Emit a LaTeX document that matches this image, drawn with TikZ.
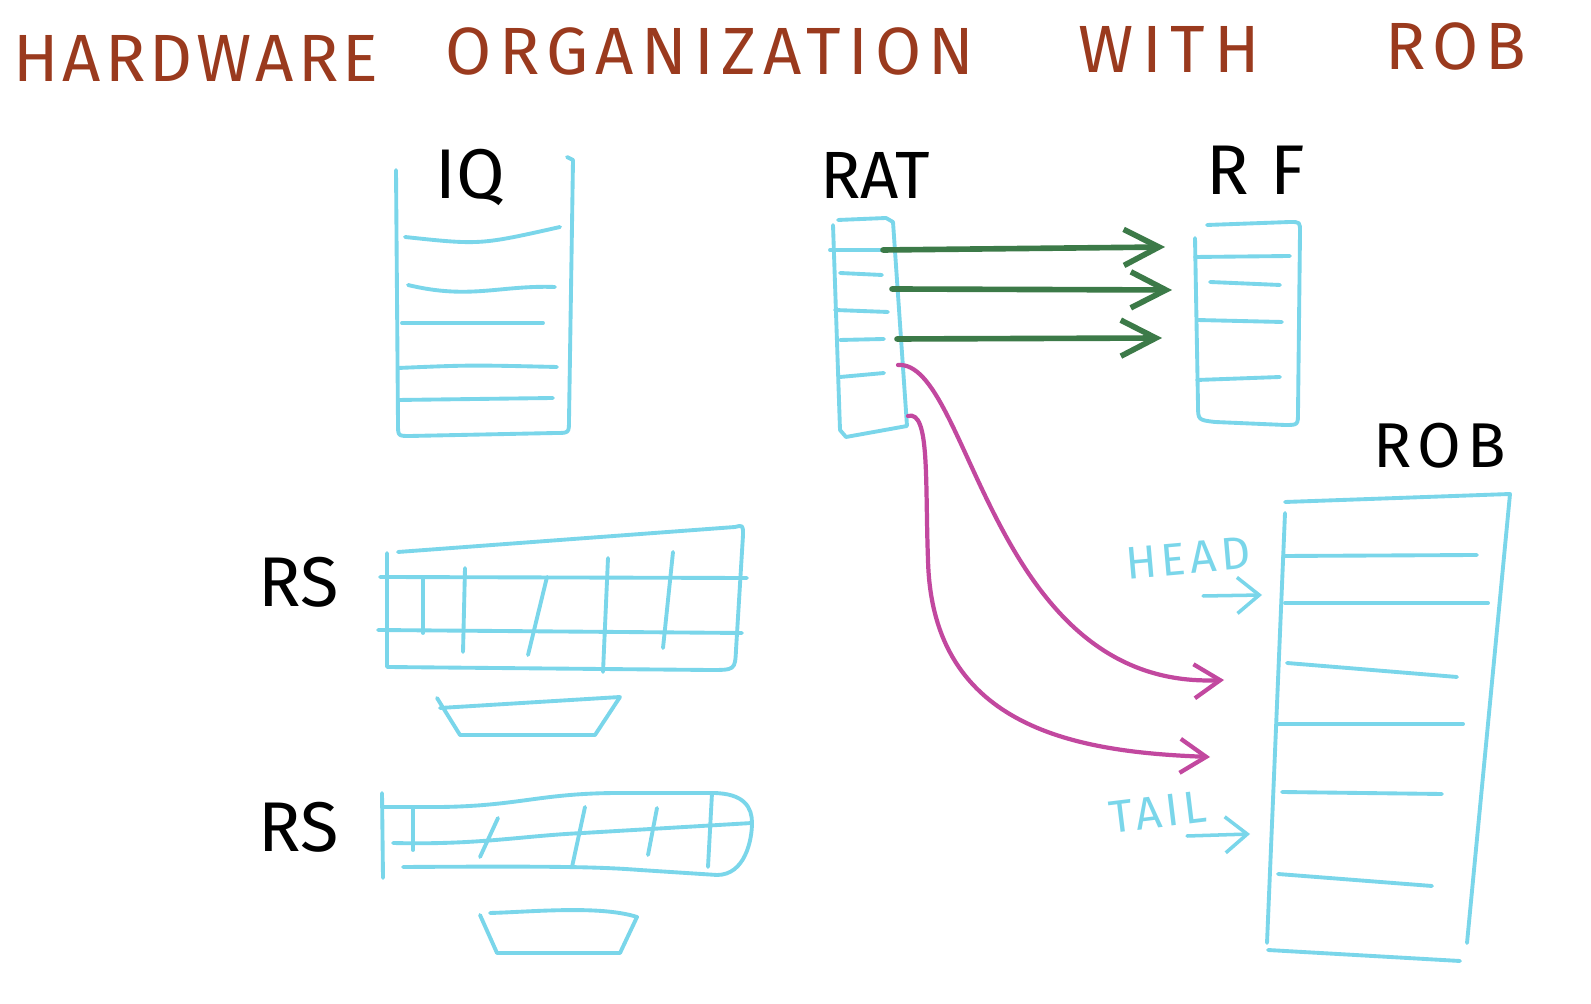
\documentclass[tikz,border=0pt]{standalone}
\usepackage{fontspec}
\setmainfont{Fira Sans}
\usetikzlibrary{arrows.meta}
\definecolor{boxcyan}{HTML}{7AD6EA}
\definecolor{ratgreen}{HTML}{3C7A48}
\definecolor{robpink}{HTML}{C2489F}
\definecolor{titlered}{HTML}{9A3A1E}
\begin{document}
\begin{tikzpicture}[
  x=0.01cm, y=-0.01cm,
  sketch/.style={draw=boxcyan, line width=1.1pt, line cap=round, line join=round},
  unitlbl/.style={font=\fontsize{20}{24}\selectfont, text=black, inner sep=0pt},
  titleword/.style={text=titlered, inner sep=0pt},
  ptrlbl/.style={font=\fontsize{13}{16}\selectfont\addfontfeatures{LetterSpace=10}, text=boxcyan, inner sep=0pt},
  maparrow/.style={draw=ratgreen, line width=1.6pt, line cap=round, -{Straight Barb[length=3.5mm,width=3.6mm]}},
  robarrow/.style={draw=robpink, line width=1.2pt, line cap=round, -{Straight Barb[length=2.6mm,width=3.4mm]}},
  ptrarrow/.style={draw=boxcyan, line width=1pt, line cap=round, -{Straight Barb[length=2.2mm,width=3.6mm]}}
]
\fill[white] (0,0) rectangle (1591,1004);
\useasboundingbox (0,0) rectangle (1591,1004);

\node[titleword, font=\fontsize{19}{23}\selectfont\addfontfeatures{LetterSpace=6}] (ttlhw) at (196,58) {HARDWARE};
\node[titleword, font=\fontsize{19}{23}\selectfont\addfontfeatures{LetterSpace=11}] (ttlorg) at (710,51) {ORGANIZATION};
\node[titleword, font=\fontsize{19}{23}\selectfont\addfontfeatures{LetterSpace=13}] (ttlwith) at (1169,49) {WITH};
\node[titleword, font=\fontsize{19}{23}\selectfont\addfontfeatures{LetterSpace=10}] (ttlrob) at (1456,46) {ROB};

\node[unitlbl] (iq) at (470,177) {IQ};
\node[unitlbl, font=\fontsize{19}{23}\selectfont] (rat) at (875,175) {RAT};
\node[unitlbl, font=\fontsize{20}{24}\selectfont\addfontfeatures{LetterSpace=30}] (rf) at (1256,170) {RF};
\node[unitlbl, font=\fontsize{18}{22}\selectfont\addfontfeatures{LetterSpace=10}] (rob) at (1440,446) {ROB};
\node[unitlbl] (rs0) at (299,582) {RS};
\node[unitlbl] (rs1) at (299,827) {RS};
\node[ptrlbl, rotate=5] (head) at (1188,558) {HEAD};
\node[ptrlbl, rotate=7] (tail) at (1158,812) {TAIL};

% IQ
\draw[sketch] (396,170) -- (398,424) .. controls (398,436) .. (410,436) -- (556,433)
  .. controls (569,433) .. (569,420) -- (573,160) -- (567,157);
\draw[sketch] (405,237) .. controls (480,245) .. (560,227);
\draw[sketch] (408,285) .. controls (470,300) and (500,285) .. (555,287);
\draw[sketch] (402,323) -- (543,323);
\draw[sketch] (398,368) .. controls (470,365) .. (557,367);
\draw[sketch] (398,400) -- (553,398);

% RAT
\draw[sketch] (833,225) -- (840,430) -- (846,437) -- (907,426) -- (893,222) -- (886,218) -- (838,220);
\draw[sketch] (830,250) -- (893,250);
\draw[sketch] (840,273) -- (882,275);
\draw[sketch] (835,310) -- (888,312);
\draw[sketch] (840,340) -- (884,339);
\draw[sketch] (840,377) -- (884,373);

% RF
\draw[sketch] (1207,225) -- (1290,222) .. controls (1300,222) .. (1300,232) -- (1298,412)
  .. controls (1298,425) .. (1285,425) -- (1215,422) .. controls (1198,420) .. (1198,405) -- (1195,238);
\draw[sketch] (1195,257) -- (1290,256);
\draw[sketch] (1210,282) -- (1280,285);
\draw[sketch] (1197,320) -- (1282,322);
\draw[sketch] (1197,380) -- (1280,377);

% ROB
\draw[sketch] (1285,513) -- (1267,943);
\draw[sketch] (1285,502) -- (1510,494) -- (1467,943);
\draw[sketch] (1268,950) -- (1460,961);
\draw[sketch] (1283,556) -- (1477,555);
\draw[sketch] (1285,603) -- (1488,603);
\draw[sketch] (1287,663) -- (1457,677);
\draw[sketch] (1277,724) -- (1463,724);
\draw[sketch] (1282,792) -- (1442,794);
\draw[sketch] (1278,874) -- (1432,886);

% RS 0 and its unit
\draw[sketch] (387,553) -- (387,667) -- (710,670) .. controls (735,670) .. (736,650) -- (743,535)
  .. controls (743,525) .. (735,527) -- (398,552);
\draw[sketch] (380,577) -- (747,578);
\draw[sketch] (378,630) -- (742,633);
\draw[sketch] (423,578) -- (423,633);
\draw[sketch] (465,568) -- (463,652);
\draw[sketch] (547,577) -- (528,655);
\draw[sketch] (608,558) -- (603,672);
\draw[sketch] (673,552) -- (663,648);
\draw[sketch] (437,698) -- (460,735) -- (595,735) -- (620,697) -- (440,708);

% RS 1 and its unit
\draw[sketch] (382,793) -- (383,878);
\draw[sketch] (382,807) -- (440,807) .. controls (520,806) and (540,793) .. (620,793) -- (712,793)
  .. controls (745,793) and (752,808) .. (752,823) .. controls (752,840) and (745,875) .. (717,875)
  -- (640,870) .. controls (600,867) and (560,866) .. (403,867);
\draw[sketch] (393,843) .. controls (480,845) and (520,836) .. (583,833) -- (752,823);
\draw[sketch] (413,807) -- (413,850);
\draw[sketch] (498,818) -- (480,857);
\draw[sketch] (585,807) -- (572,867);
\draw[sketch] (657,808) -- (648,855);
\draw[sketch] (712,793) -- (708,867);
\draw[sketch] (480,915) -- (497,953) -- (620,953) -- (637,917) .. controls (600,905) and (530,912) .. (490,913);

% RAT to RF
\coordinate (ratg0) at (883,250);
\coordinate (ratg1) at (892,289);
\coordinate (ratg2) at (897,339);
\coordinate (rfin0) at (1165,247);
\coordinate (rfin1) at (1172,290);
\coordinate (rfin2) at (1162,338);
\draw[maparrow] (ratg0) -- (rfin0);
\draw[maparrow] (ratg1) -- (rfin1);
\draw[maparrow] (ratg2) -- (rfin2);

% RAT to ROB
\coordinate (ratm0) at (898,365);
\coordinate (ratm1) at (908,416);
\coordinate (robin0) at (1224,680);
\coordinate (robin1) at (1210,757);
\draw[robarrow] (ratm0) .. controls (970,360) and (990,690) .. (robin0);
\draw[robarrow] (ratm1) .. controls (930,410) and (925,480) .. (928,560)
  .. controls (932,730) and (1080,752) .. (robin1);

% head and tail pointers
\coordinate (hd0) at (1203,596);
\coordinate (hd1) at (1262,595);
\coordinate (tl0) at (1187,836);
\coordinate (tl1) at (1250,834);
\draw[ptrarrow] (hd0) -- (hd1);
\draw[ptrarrow] (tl0) -- (tl1);
\end{tikzpicture}
\end{document}
